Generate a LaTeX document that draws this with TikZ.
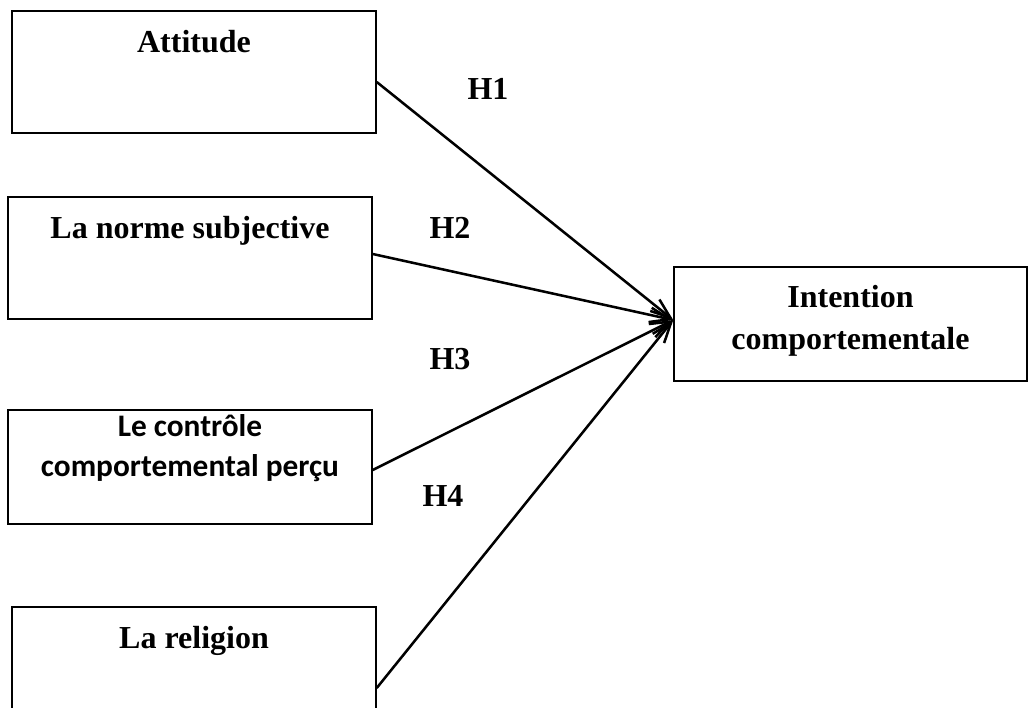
\documentclass[tikz,border=0pt]{standalone}
\usepackage{fontspec}
\setmainfont{Liberation Serif}
\newfontfamily\carlito{Carlito}
\usetikzlibrary{arrows.meta}

\tikzset{
  boite/.style={draw, line width=1.1pt, minimum width=273pt,
    minimum height=91.5pt, inner sep=0pt},
  titre/.style={font=\fontsize{24}{31.5}\selectfont\bfseries,
    align=center, anchor=base, inner sep=0pt},
  fleche/.style={line width=1.9pt, -{Straight Barb[length=15pt, width=11pt]}},
  hypo/.style={font=\fontsize{24}{28}\selectfont\bfseries, inner sep=0pt},
}

\begin{document}
\begin{tikzpicture}[x=0.75pt, y=-0.75pt]

        \useasboundingbox (0,0) rectangle (1028,707);
        \clip (0,0) rectangle (1028,707);

        %% ── Variables explicatives ────────────────────────────────────────
        \node[boite] (att) at (194,72) {};
        \node[titre] (att-txt) at ([yshift=-31.5pt]att.north) {Attitude};

        \node[boite] (norme) at (190,258) {};
        \node[titre] (norme-txt) at ([yshift=-31.5pt]norme.north)
            {La norme subjective};

        \node[boite, minimum height=85.5pt] (ctrl) at (190,467) {};
        \node[titre, font=\carlito\fontsize{23.5}{30}\selectfont\bfseries]
            (ctrl-txt) at ([yshift=-50.25pt]ctrl.north)
            {Le contrôle\\comportemental perçu};

        \node[boite] (rel) at (194,668) {};
        \node[titre] (rel-txt) at ([yshift=-32pt]rel.north) {La religion};

        %% ── Variable expliquée ────────────────────────────────────────────
        \node[boite, minimum width=264.75pt, minimum height=85.5pt]
            (int) at (850.5,324) {};
        \node[titre] (int-txt) at ([yshift=-62.25pt]int.north)
            {Intention\\comportementale};

        %% ── Hypothèses ────────────────────────────────────────────────────
        \coordinate (cible) at ([yshift=3pt]int.west);
        \draw[fleche] ([yshift=-7.5pt]att.east) -- (cible);
        \draw[fleche] ([yshift=3pt]norme.east) -- (cible);
        \draw[fleche] ([yshift=-2.25pt]ctrl.east) -- (cible);
        \draw[fleche] ([yshift=-15pt]rel.east) -- (cible);

        \node[hypo] (h1) at (488,89) {H1};
        \node[hypo] (h2) at (450,228) {H2};
        \node[hypo] (h3) at (450,359) {H3};
        \node[hypo] (h4) at (443,496) {H4};

\end{tikzpicture}
\end{document}
